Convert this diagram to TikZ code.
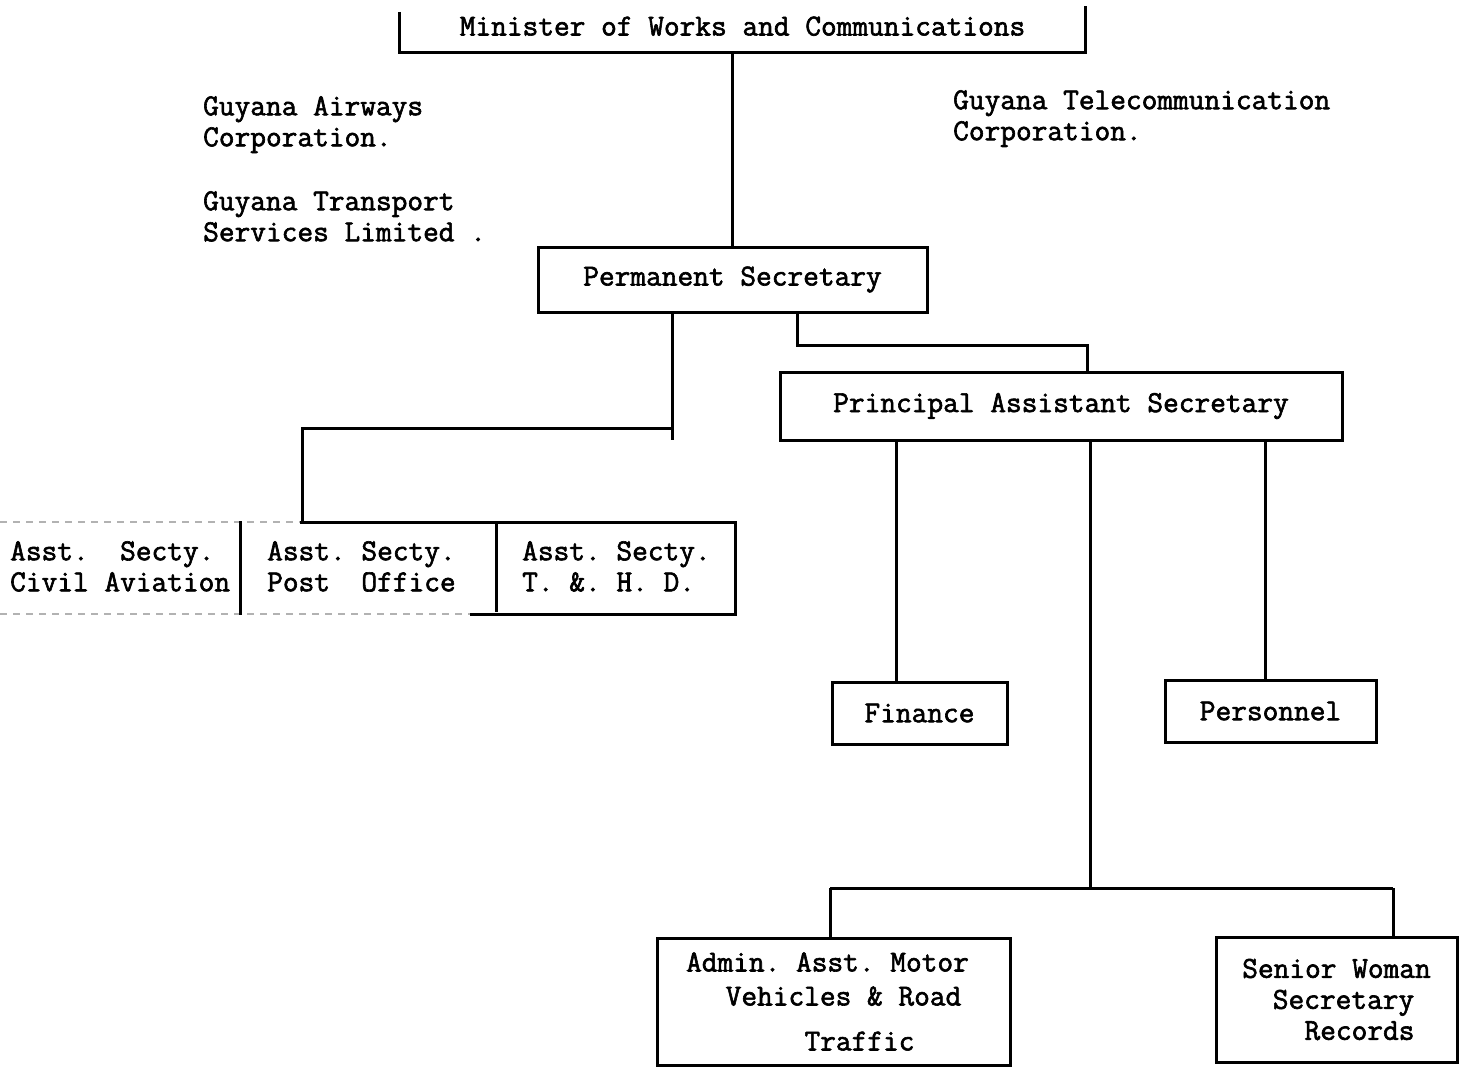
\documentclass[tikz,border=0pt]{standalone}
\usepackage{fontspec}
\newfontfamily\twfont{Latin Modern Mono}[FakeBold=2]
\begin{document}
\frenchspacing
\begin{tikzpicture}[x=1pt,y=-1pt,
  every node/.style={font=\twfont\fontsize{30.5}{31}\selectfont\frenchspacing, text=black},
  ln/.style={line width=3pt, black, line cap=butt},
  box/.style={draw=black, line width=3pt, inner sep=0pt, align=center},
  lbl/.style={inner sep=0pt, anchor=north west, align=left},
  faint/.style={line width=1.5pt, black!30, dash pattern=on 7pt off 6pt}]
\useasboundingbox (0,0) rectangle (1465,1068);
\fill[white] (0,0) rectangle (1465,1068);

% top: minister (open-topped frame)
\node[inner sep=0pt, minimum width=685pt, minimum height=46pt] (min) at (742.5,29) {\raisebox{6pt}{Minister of Works and Communications}};
\draw[ln] ([yshift=-6pt]min.north west) -- (min.south west) -- (min.south east) -- (min.north east);

% side labels
\node[lbl] (gac) at (203,96) {Guyana Airways\\Corporation.};
\node[lbl] (gts) at (203,191) {Guyana Transport\\Services Limited .};
\node[lbl] (gtc) at (953,90) {Guyana Telecommunication\\Corporation.};

% boxes
\node[box, minimum width=389pt, minimum height=65pt] (ps) at (732.5,279.5) {Permanent Secretary};
\node[box, minimum width=562pt, minimum height=68pt] (pas) at (1061,406) {Principal Assistant Secretary};
\node[box, minimum width=175pt, minimum height=62pt] (fin) at (919.5,713) {Finance};
\node[box, minimum width=211pt, minimum height=62pt] (pers) at (1270.5,711) {Personnel};
\node[box, minimum width=353pt, minimum height=127pt] (admin) at (833.5,1001.5)
  {Admin. Asst. Motor\hspace*{12pt}\\[3pt]\hspace*{20pt}Vehicles \& Road\\[14pt]\hspace*{52pt}Traffic};
\node[box, minimum width=241pt, minimum height=125pt] (senior) at (1336.5,999.5)
  {Senior Woman\\\hspace*{14pt}Secretary\\\hspace*{46pt}Records};

% assistant secretaries row
\node[lbl] (a1) at (10,541) {Asst.\ \ Secty.\\Civil Aviation};
\node[lbl] (a2) at (267,541) {Asst. Secty.\\Post\ \ Office};
\node[lbl] (a3) at (522,541) {Asst. Secty.\\T. \&. H. D.};
\draw[faint] (0,522) -- (300,522);
\draw[faint] (0,614) -- (470,614);
\draw[ln] (300,522) -- (737,522);
\draw[ln] (470,614) -- (737,614);
\draw[ln] (240,521) -- (240,615);
\draw[ln] (496,524) -- (496,612);
\draw[ln] (735,521) -- (735,615);

% connectors
\draw[ln] (ps.north) -- (ps.north |- min.south);

\coordinate (ja) at (672,428);
\coordinate (asst) at (302,522);
\draw[ln] (ja |- ps.south) -- (672,440);
\draw[ln] (ja) -| (asst);

\coordinate (jb) at (797,345);
\coordinate (jc) at (1087,345);
\draw[ln] (jb |- ps.south) -- (jb) -- (jc) -- (jc |- pas.north);

\coordinate (xf) at (896,0);
\coordinate (xp) at (1265,0);
\draw[ln] (xf |- pas.south) -- (xf |- fin.north);
\draw[ln] (xp |- pas.south) -- (xp |- pers.north);

\coordinate (jm) at (1090,888);
\coordinate (jl) at (830,888);
\coordinate (jr) at (1393,888);
\draw[ln] (jm |- pas.south) -- (jm);
\draw[ln] (jl) -- (jr);
\draw[ln] (jl) -- (jl |- admin.north);
\draw[ln] (jr) -- (jr |- senior.north);
\end{tikzpicture}
\end{document}
